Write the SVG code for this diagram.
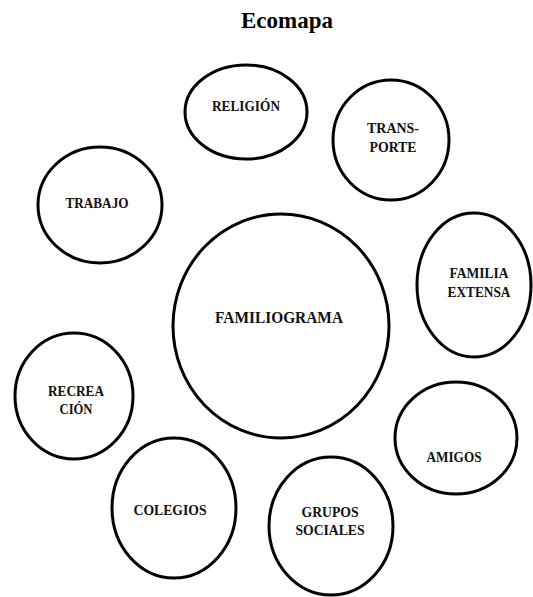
<svg xmlns="http://www.w3.org/2000/svg" width="533" height="597" viewBox="0 0 533 597">
<style>
.n{fill:#fff;stroke:#000;stroke-width:3}
.t{font-family:"Liberation Serif","Times New Roman",serif;font-weight:bold;font-size:15px;fill:#111;text-anchor:middle}
.big{font-size:17px}
.title{font-family:"Liberation Serif","Times New Roman",serif;font-weight:bold;font-size:23px;fill:#000;text-anchor:middle}
</style>
<rect width="533" height="597" fill="#fff"/>
<text class="title" x="287" y="28">Ecomapa</text>
<g id="connectors"></g>
<g id="religion"><ellipse class="n" cx="246" cy="112" rx="61" ry="47"/><text class="t" x="246" y="111" textLength="68" lengthAdjust="spacingAndGlyphs">RELIGIÓN</text></g>
<g id="transporte"><ellipse class="n" cx="391" cy="140" rx="58" ry="60"/><text class="t" x="393" y="133" textLength="52" lengthAdjust="spacingAndGlyphs">TRANS-</text><text class="t" x="393" y="152" textLength="47" lengthAdjust="spacingAndGlyphs">PORTE</text></g>
<g id="trabajo"><ellipse class="n" cx="100" cy="205" rx="62" ry="58"/><text class="t" x="97" y="208" textLength="63" lengthAdjust="spacingAndGlyphs">TRABAJO</text></g>
<g id="familiograma"><ellipse class="n" cx="281" cy="326" rx="108" ry="112"/><text class="t big" x="279" y="323" textLength="128" lengthAdjust="spacingAndGlyphs">FAMILIOGRAMA</text></g>
<g id="familia-extensa"><ellipse class="n" cx="474" cy="285" rx="57" ry="72"/><text class="t" x="479" y="278" textLength="59" lengthAdjust="spacingAndGlyphs">FAMILIA</text><text class="t" x="479" y="297" textLength="63" lengthAdjust="spacingAndGlyphs">EXTENSA</text></g>
<g id="recreacion"><ellipse class="n" cx="74" cy="396" rx="59" ry="63"/><text class="t" x="76" y="396" textLength="56" lengthAdjust="spacingAndGlyphs">RECREA</text><text class="t" x="76" y="414" textLength="33" lengthAdjust="spacingAndGlyphs">CIÓN</text></g>
<g id="amigos"><ellipse class="n" cx="456" cy="438" rx="61" ry="56"/><text class="t" x="454" y="462" textLength="55" lengthAdjust="spacingAndGlyphs">AMIGOS</text></g>
<g id="colegios"><ellipse class="n" cx="174" cy="508" rx="62" ry="70"/><text class="t" x="170" y="515" textLength="73" lengthAdjust="spacingAndGlyphs">COLEGIOS</text></g>
<g id="grupos-sociales"><ellipse class="n" cx="331" cy="526" rx="62" ry="69"/><text class="t" x="330" y="517" textLength="57" lengthAdjust="spacingAndGlyphs">GRUPOS</text><text class="t" x="330" y="535" textLength="69" lengthAdjust="spacingAndGlyphs">SOCIALES</text></g>
</svg>
